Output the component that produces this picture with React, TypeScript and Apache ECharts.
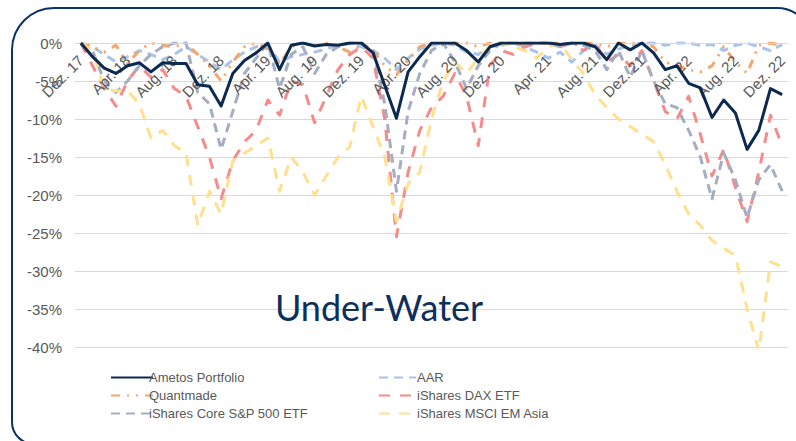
import React, { useEffect, useRef } from "react";
import * as echarts from "echarts";

const monthNames = ["Jan.", "Feb.", "Mrz.", "Apr.", "Mai", "Jun.", "Jul.", "Aug.", "Sep.", "Okt.", "Nov.", "Dez."];
// Dez. 17 … Dez. 22, monthly
const categories: string[] = [];
for (let i = 0; i < 61; i++) {
  const m = (11 + i) % 12;
  const y = 17 + Math.floor((11 + i) / 12);
  categories.push(`${monthNames[m]} ${y}`);
}

const ametos = [
  0, -1.8, -3.3, -4.0, -3.0, -2.6, -3.8, -2.6, -2.7, -2.7, -5.5, -5.7, -8.3,
  -4.0, -2.3, -1.3, 0, -3.5, -0.3, 0, -0.4, -0.2, -0.3, 0, 0,
  -1.3, -5.6, -9.9, -3.8, -1.8, 0, 0, 0, -1.0, -2.5, -0.5, 0,
  0, 0, 0, 0, -0.2, 0, 0, -0.5, -2.2, 0, -0.9, 0,
  -1.3, -3.5, -3.0, -5.3, -5.9, -9.8, -7.5, -9.2, -14.0, -11.5, -6.0, -6.8,
];
const aar = [
  0, -0.5, -1.5, -2.5, -1.8, -1.0, -1.5, -2.2, -1.5, -0.5, -1.5, -2.5, -3.5,
  -2.2, -1.2, -0.5, -0.3, -2.5, -1.8, -1.5, -1.2, -0.8, -0.3, 0, -0.5,
  -1.0, -2.0, -3.5, -2.0, -0.8, -0.3, 0, -0.3, -1.2, -1.5, -0.5, -0.3,
  0, -0.5, -1.2, -2.0, -1.2, -2.5, -1.0, -0.3, -1.5, -0.8, -0.3, 0,
  0, -0.3, 0, 0, -0.3, -0.2, -1.0, -0.3, 0, -0.5, -1.0, -0.2,
];
const quantmade = [
  0, -0.5, -1.2, -0.3, -2.7, -1.0, 0, -0.3, -0.5, 0, -1.5, -3.0, -5.0,
  -2.5, -0.5, 0, -0.8, -2.8, -0.5, 0, -0.3, 0, -0.5, -1.2, -0.3,
  -1.0, -3.0, -4.2, -2.2, -0.5, 0, -0.3, 0, 0, -0.5, 0, 0,
  0, -0.3, 0, 0, 0, -0.3, 0, 0, -0.5, 0, 0, 0,
  -0.5, -2.5, -3.0, -3.5, -3.8, -3.0, -0.5, -2.5, -4.0, -0.3, 0, -0.3,
];
const dax = [
  0, -3.0, -6.0, -8.3, -5.0, -3.0, -4.5, -3.5, -6.0, -7.0, -11.0, -15.0, -20.5,
  -15.5, -13.0, -11.5, -7.5, -9.5, -5.0, -5.5, -10.5, -7.0, -3.5, -1.5, -0.5,
  -2.0, -10.0, -25.5, -17.0, -11.5, -8.5, -7.0, -4.0, -7.0, -13.5, -3.0, -1.0,
  -1.5, -0.5, 0, 0, -0.5, 0, -1.0, 0, -2.5, -1.5, -3.0, -1.0,
  -5.0, -9.0, -10.0, -7.0, -12.0, -17.5, -14.0, -19.0, -23.5, -17.0, -9.5, -13.5,
];
const sp500 = [
  0, -1.0, -5.0, -6.5, -5.0, -3.0, -1.5, -0.5, 0, 0, -6.5, -8.0, -14.0,
  -9.0, -4.0, -2.0, 0, -6.0, -1.5, -0.5, -4.0, -1.5, -0.5, 0, 0,
  -1.0, -8.0, -19.5, -9.0, -4.0, -1.0, 0, -2.5, -6.0, -3.0, -1.0, 0,
  0, 0, 0, 0, -0.5, 0, -0.3, -1.0, -3.5, -1.0, -4.5, -1.0,
  -5.0, -8.0, -8.5, -11.5, -15.0, -20.5, -14.5, -18.0, -23.0, -18.0, -16.0, -19.5,
];
const emAsia = [
  0, -1.0, -6.0, -6.3, -6.3, -8.0, -12.5, -11.5, -13.5, -14.5, -24.0, -19.5, -22.5,
  -15.5, -14.5, -13.5, -12.5, -19.5, -15.0, -17.0, -20.0, -17.5, -15.0, -13.7, -7.0,
  -11.0, -15.0, -23.5, -18.5, -17.0, -10.0, -5.0, -2.5, -4.0, -2.0, -0.5, 0,
  -0.5, -1.0, -2.0, -0.5, 0, -2.2, -4.0, -6.8, -8.5, -10.0, -11.0, -12.0,
  -13.0, -16.0, -19.5, -22.5, -24.0, -26.0, -27.0, -28.0, -35.0, -40.5, -28.8, -29.4,
];

const legendLeft = ["Ametos Portfolio", "Quantmade", "iShares Core S&P 500 ETF"];
const legendRight = ["AAR", "iShares DAX ETF", "iShares MSCI EM Asia"];

export default function App() {
  const ref = useRef<HTMLDivElement>(null);
  useEffect(() => {
    if (!ref.current) return;
    const chart = echarts.init(ref.current, null, { renderer: "svg" });
    const mk = (name: string, data: number[], color: string, dash: number[] | "solid", width: number, z: number) => ({
      name,
      type: "line",
      data,
      symbol: "none",
      z,
      itemStyle: { color },
      lineStyle: { color, width, type: dash, cap: "butt", join: "round" },
    });
    const legendText = { color: "#595959", fontSize: 13, fontFamily: "Liberation Sans, Arial, sans-serif" };
    chart.setOption({
      animation: false,
      backgroundColor: "#ffffff",
      grid: { left: 75, right: 8, top: 43, bottom: 94, containLabel: false },
      xAxis: {
        type: "category",
        data: categories,
        boundaryGap: true,
        position: "bottom",
        offset: -304,
        z: 3,
        axisLine: { onZero: false, lineStyle: { color: "#d9d9d9", width: 1 } },
        axisTick: { show: false },
        axisLabel: {
          interval: 3,
          rotate: 45,
          margin: 15,
          color: "#595959",
          fontSize: 15,
          fontFamily: "Liberation Sans, Arial, sans-serif",
        },
        splitLine: { show: false },
      },
      yAxis: {
        type: "value",
        min: -40,
        max: 0,
        interval: 5,
        axisLine: { show: false },
        axisTick: { show: false },
        axisLabel: {
          formatter: "{value}%",
          margin: 13,
          color: "#595959",
          fontSize: 15,
          fontFamily: "Liberation Sans, Arial, sans-serif",
        },
        splitLine: { lineStyle: { color: "#d9d9d9", width: 1 } },
      },
      legend: [
        {
          data: legendLeft,
          orient: "vertical",
          left: 105,
          top: 366,
          itemWidth: 42,
          itemHeight: 14,
          itemGap: 5,
          textStyle: { ...legendText, padding: [0, 0, 0, -9] },
          itemStyle: { opacity: 0 },
        },
        {
          data: legendRight,
          orient: "vertical",
          left: 373,
          top: 366,
          itemWidth: 37,
          itemHeight: 14,
          itemGap: 5,
          textStyle: { ...legendText, padding: [0, 0, 0, -4] },
          itemStyle: { opacity: 0 },
        },
      ],
      graphic: [
        {
          type: "rect",
          shape: { x: 12, y: 8, width: 800, height: 436, r: [42, 35, 22, 22] },
          style: { fill: "none", stroke: "#0b3262", lineWidth: 2 },
          silent: true,
          z: 100,
        },
        {
          type: "text",
          x: 379,
          y: 307,
          style: {
            text: "Under-Water",
            fill: "#0d2f5c",
            fontSize: 36,
            fontFamily: "Lato, sans-serif",
            textAlign: "center",
            textVerticalAlign: "middle",
          },
          z: 100,
        },
      ],
      series: [
        mk("AAR", aar, "#a9c4e8", [9, 6], 3, 2),
        mk("Quantmade", quantmade, "#f4a66f", [9, 7, 2, 7, 2, 7], 3, 2),
        mk("iShares DAX ETF", dax, "#f58c8c", [11, 10], 3, 2),
        mk("iShares Core S&P 500 ETF", sp500, "#a4adc2", [9, 6], 3, 2),
        mk("iShares MSCI EM Asia", emAsia, "#fee08e", [11, 9], 3, 2),
        mk("Ametos Portfolio", ametos, "#0c2a50", "solid", 3, 3),
      ],
    });
    return () => chart.dispose();
  }, []);
  return (
    <div
      ref={ref}
      style={{ position: "fixed", left: 0, top: 0, width: 796, height: 441, background: "#fff" }}
    />
  );
}
